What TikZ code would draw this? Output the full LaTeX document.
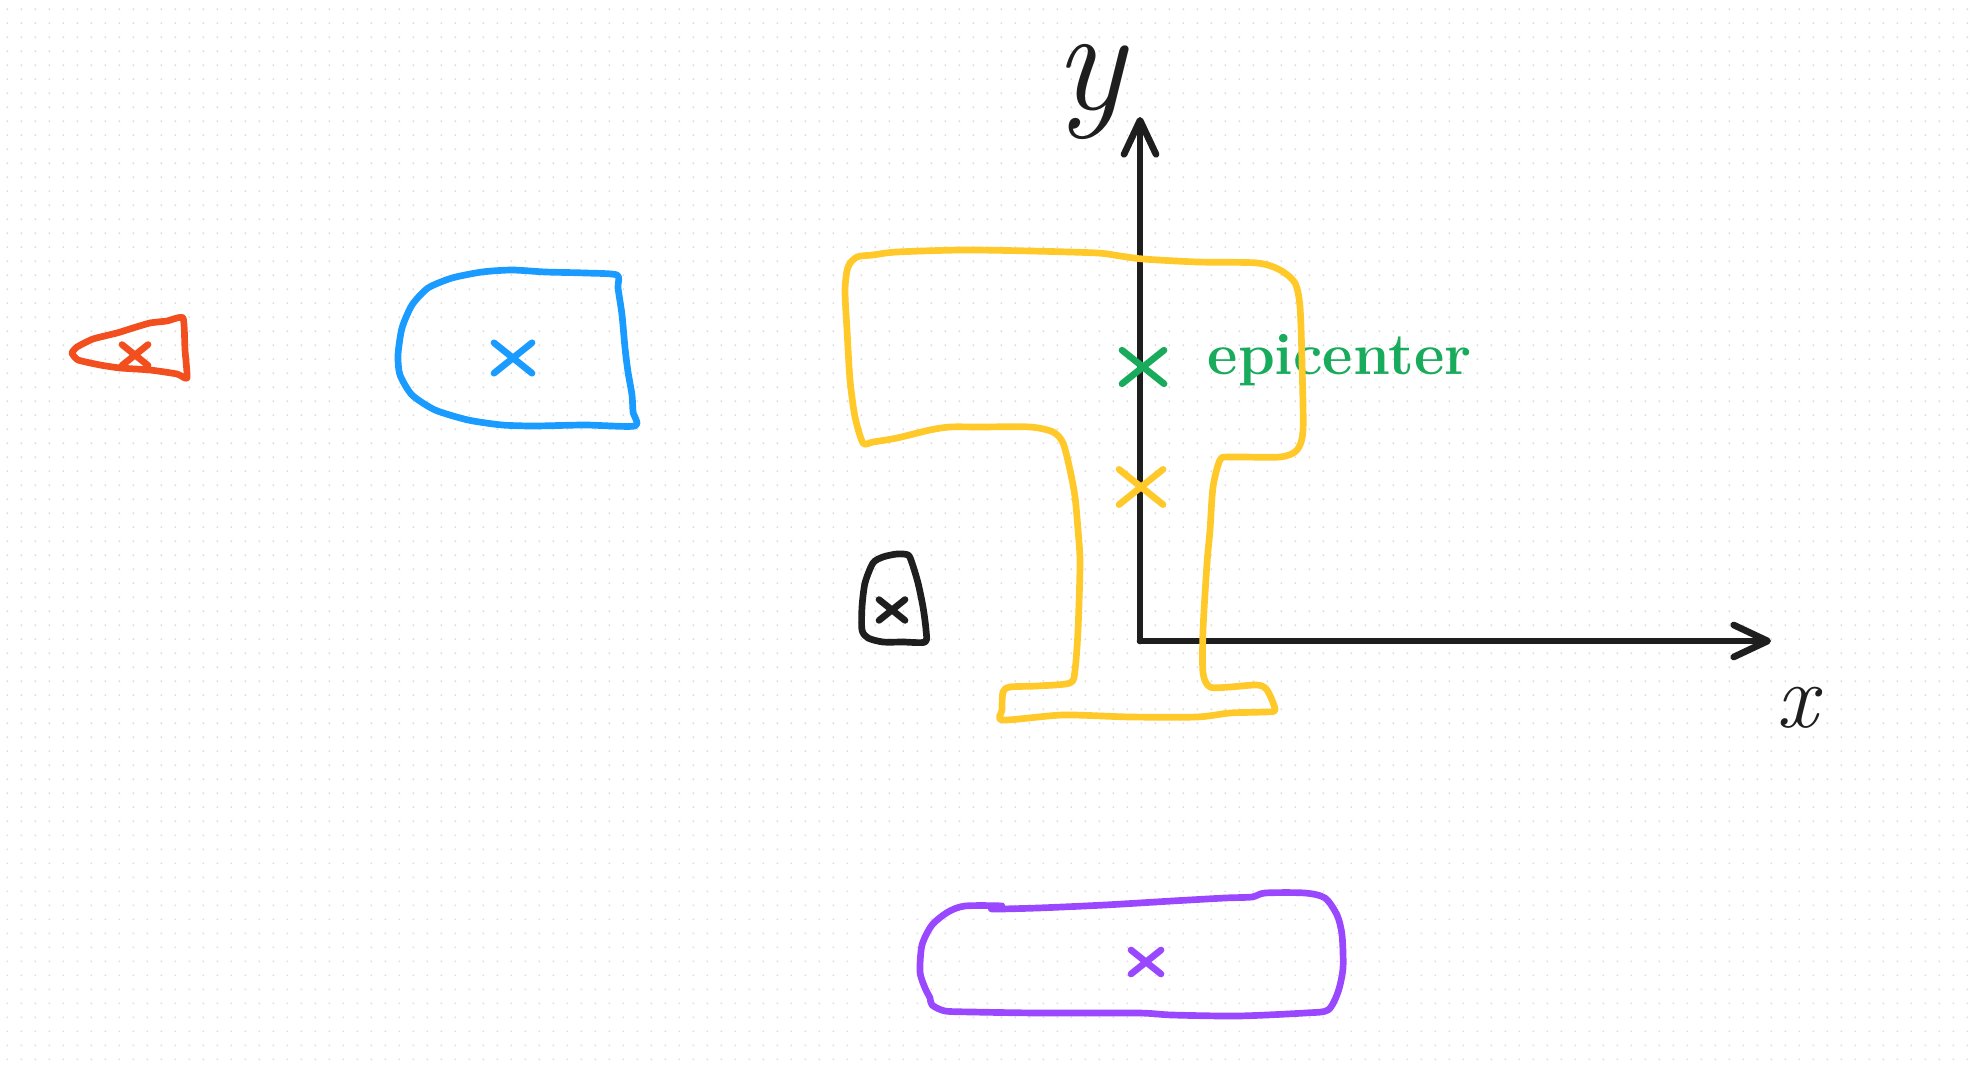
\documentclass[tikz,border=0pt]{standalone}
\usepackage{tikz}
\usetikzlibrary{arrows.meta}
\definecolor{inkblack}{HTML}{1E1E1E}
\definecolor{inkyellow}{HTML}{FFC929}
\definecolor{inkgreen}{HTML}{17AB5B}
\definecolor{inkblue}{HTML}{1A9BFF}
\definecolor{inkred}{HTML}{F24E1E}
\definecolor{inkpurple}{HTML}{9A48FF}
\tikzset{
    pen/.style={line width=1.9pt, line cap=round, line join=round},
    outline/.style={pen, smooth cycle, tension=0.45},
    >={Straight Barb[length=3.4mm,width=3.2mm,round]},
    axis label/.style={inkblack, inner sep=0pt},
}

\begin{document}
\begin{tikzpicture}[x=0.01cm,y=-0.01cm]
    \useasboundingbox (0,0) rectangle (1980,1071);
    \fill[white] (0,0) rectangle (1980,1071);
    % dot grid
    \foreach \j in {0,...,76}
        \fill[gray!28] \foreach \i in {0,...,141} {(6.5+14*\i,8.5+14*\j) rectangle +(1.6,1.6)};

    % axes
    \coordinate (O) at (1140,641);
    \coordinate (ytip) at (1140,117);
    \coordinate (xtip) at (1771,641);
    \draw[pen,inkblack,->] (O) -- (ytip);
    \draw[pen,inkblack,->] (O) -- (xtip);
    \node[axis label, font=\fontsize{42}{42}\selectfont\itshape] (ylabel) at (1090,92) {y};
    \node[axis label, font=\fontsize{26}{26}\selectfont\itshape] (xlabel) at (1797,708) {x};
    \node[inkgreen, inner sep=0pt, anchor=base west, font=\fontsize{16.8}{20}\selectfont\bfseries] (epicenter) at (1207,375) {epicenter};

    % red
    \draw[outline,inkred,tension=0.3] plot coordinates {(183,318) (167,321) (150,323) (133,328) (117,333) (93,339) (77,347) (72,353) (78,360) (100,365) (120,368) (150,370) (177,374) (187,378) (185,350)};
    % blue
    \draw[outline,inkblue,tension=0.4] plot coordinates {(617,275) (585,273) (545,272) (512,270) (482,272) (452,278) (428,288) (412,305) (402,328) (398,355) (400,375) (412,395) (435,410) (468,420) (502,425) (535,426) (585,425) (635,426) (633,412) (632,395) (628,372) (625,348) (622,315) (618,288)};
    % black
    \draw[outline,inkblack] plot coordinates {(908,555) (897,554) (883,557) (873,563) (865,583) (862,607) (862,630) (868,638) (883,642) (903,642) (925,642) (926,630) (923,607) (918,583) (912,563)};
    % purple
    \draw[outline,inkpurple] plot coordinates {(1002,906) (965,906) (948,912) (932,925) (922,945) (920,972) (925,988) (930,998) (932,1005) (945,1011) (972,1012) (1038,1013) (1138,1013) (1172,1015) (1238,1016) (1305,1013) (1328,1010) (1338,992) (1343,968) (1342,935) (1337,915) (1325,898) (1305,893) (1265,893) (1252,897) (1225,898) (1172,901) (1105,905) (1038,908) (992,909)};
    % yellow
    \draw[outline,inkyellow] plot coordinates {(863,443) (855,417) (850,380) (847,330) (845,290) (848,267) (857,257) (873,255) (897,252) (963,250) (1030,251) (1097,253) (1120,256) (1143,259) (1197,262) (1257,263) (1280,270) (1295,283) (1300,307) (1302,363) (1303,430) (1297,450) (1280,457) (1230,457) (1220,460) (1213,487) (1210,530) (1207,563) (1203,630) (1203,673) (1210,687) (1230,687) (1257,685) (1267,690) (1275,710) (1263,712) (1230,713) (1197,717) (1130,717) (1063,715) (1003,720) (1002,710) (1003,692) (1010,687) (1037,686) (1070,683) (1075,670) (1078,630) (1080,563) (1078,530) (1075,497) (1070,470) (1063,443) (1053,432) (1030,427) (980,427) (950,427) (930,430) (897,438) (873,442)};

    % centroid marks
    \foreach \cx/\cy/\r/\col in {135/355/13/inkred, 513/358/19/inkblue, 892/610/13/inkblack, 1143/367/21/inkgreen, 1141/487/22/inkyellow, 1146/962/15/inkpurple}
    {
        \draw[pen,\col] (\cx-\r,\cy-0.8*\r) -- (\cx+\r,\cy+0.8*\r);
        \draw[pen,\col] (\cx+\r,\cy-0.8*\r) -- (\cx-\r,\cy+0.8*\r);
    }
\end{tikzpicture}
\end{document}
